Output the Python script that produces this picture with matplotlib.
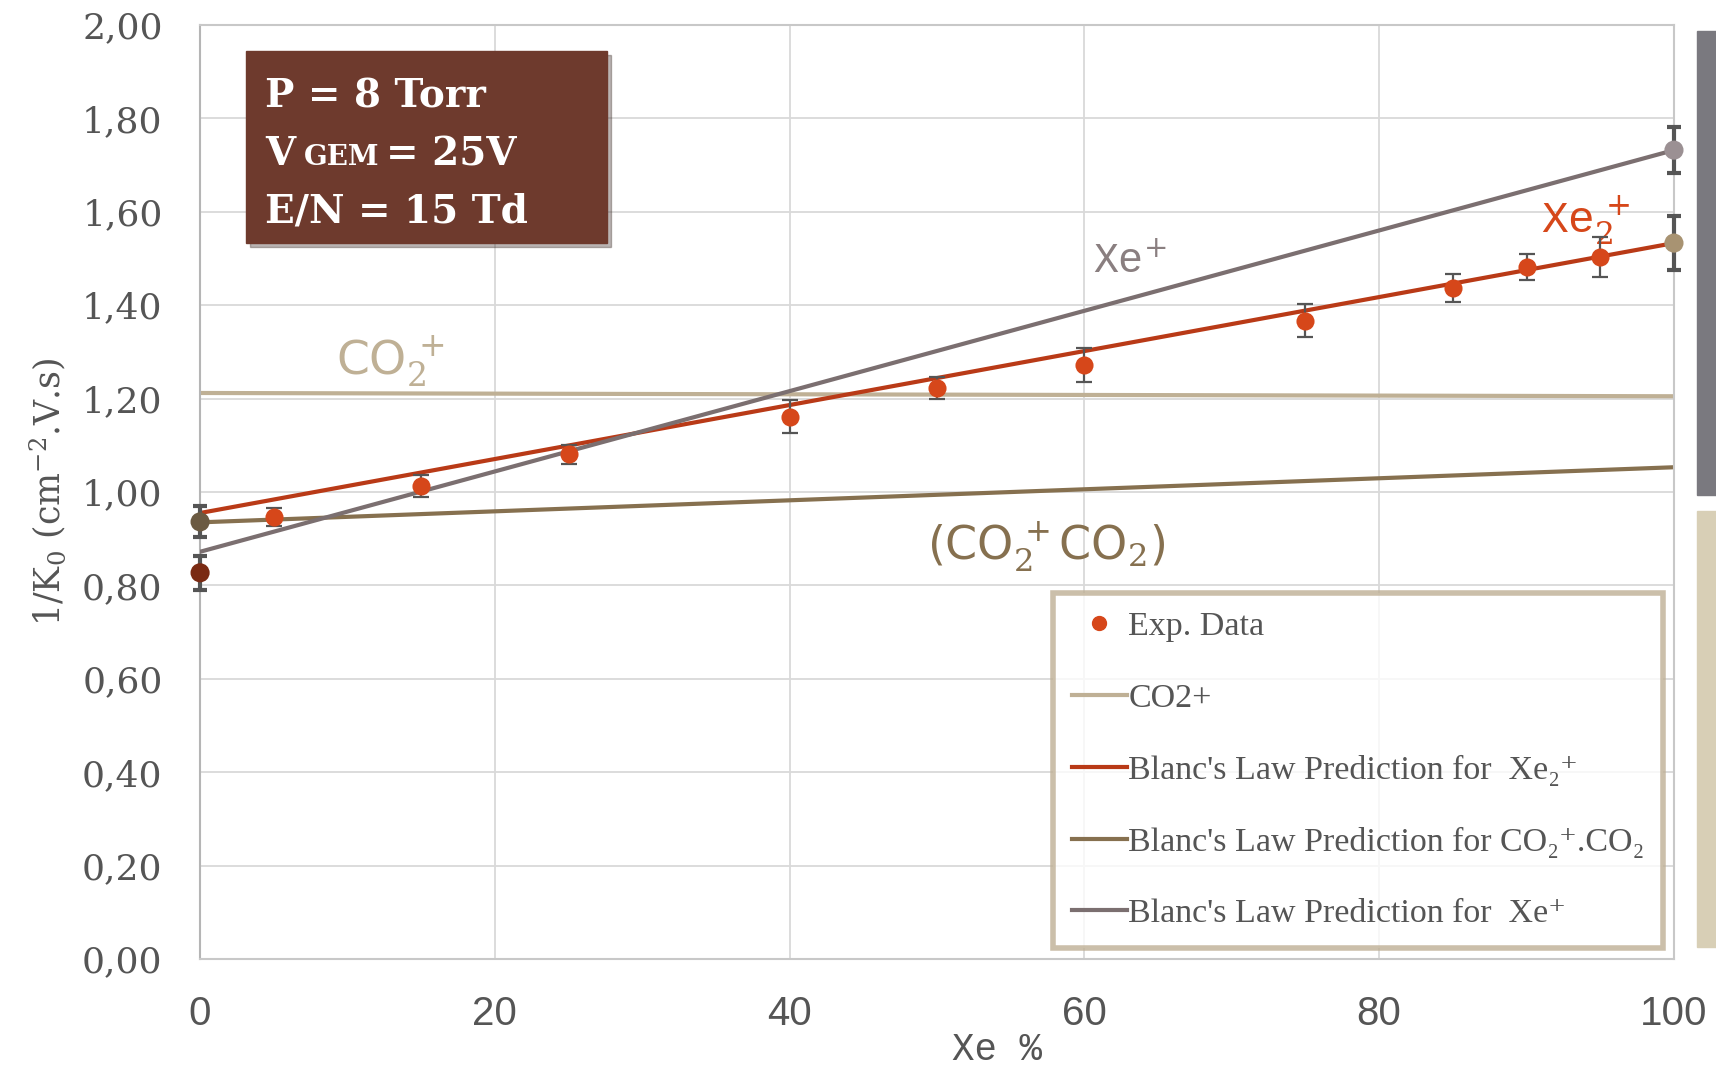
import matplotlib
matplotlib.use("Agg")
from matplotlib import pyplot as plt
from matplotlib.lines import Line2D
from matplotlib.patches import Rectangle
from matplotlib.ticker import FuncFormatter, MultipleLocator

# experimental data, 1/K0 vs Xe %
xe_pct = [5, 15, 25, 40, 50, 60, 75, 85, 90, 95]
inv_k0 = [0.947, 1.013, 1.081, 1.161, 1.223, 1.272, 1.367, 1.437, 1.482, 1.503]
inv_k0_err = [0.019, 0.023, 0.020, 0.035, 0.024, 0.037, 0.035, 0.030, 0.028, 0.043]

# Blanc's law predictions (straight lines between pure gas ends)
line_x = [0, 100]
co2_plus = [1.212, 1.205]
blanc_xe2 = [0.955, 1.533]
blanc_co2co2 = [0.935, 1.053]
blanc_xe = [0.872, 1.732]

# pure gas reference points
ref_x = [0, 0, 100, 100]
ref_y = [0.827, 0.936, 1.533, 1.732]
ref_err = [0.036, 0.033, 0.057, 0.050]
ref_colors = ["#7a2a12", "#6b5a42", "#a89372", "#9b9093"]

EXP_C = "#d6471a"
XE2_C = "#b93a17"
CO2_C = "#bfb095"
CO2CO2_C = "#86704f"
XE_C = "#7b6f70"
ERR_C = "#555555"
TXT_C = "#555555"

plt.rcParams["mathtext.fontset"] = "custom"
plt.rcParams["mathtext.rm"] = "DejaVu Serif"
plt.rcParams["mathtext.it"] = "DejaVu Serif"

fig = plt.figure(figsize=(17.16, 10.67), dpi=100)
ax = fig.add_axes([0.1166, 0.1012, 0.8589, 0.8754])

ax.plot(line_x, co2_plus, color=CO2_C, lw=3, zorder=2)
ax.plot(line_x, blanc_xe2, color=XE2_C, lw=3, zorder=3)
ax.plot(line_x, blanc_co2co2, color=CO2CO2_C, lw=3, zorder=2)
ax.plot(line_x, blanc_xe, color=XE_C, lw=3, zorder=3)

ax.errorbar(xe_pct, inv_k0, yerr=inv_k0_err, fmt="none", ecolor=ERR_C,
            elinewidth=1.6, capsize=6, capthick=1.6, zorder=4)
ax.scatter(xe_pct, inv_k0, s=170, color=EXP_C, zorder=5, linewidths=0)

ax.errorbar(ref_x, ref_y, yerr=ref_err, fmt="none", ecolor=ERR_C,
            elinewidth=3, capsize=5, capthick=3, zorder=4, clip_on=False)
ax.scatter(ref_x, ref_y, s=190, color=ref_colors, zorder=5, linewidths=0,
           clip_on=False)

ax.set_xlim(0, 100)
ax.set_ylim(0, 2.0)
ax.xaxis.set_major_locator(MultipleLocator(20))
ax.yaxis.set_major_locator(MultipleLocator(0.2))
ax.yaxis.set_major_formatter(FuncFormatter(lambda v, p: f"{v:.2f}".replace(".", ",")))
ax.grid(True, color="#d9d9d9", lw=1.3)
ax.set_axisbelow(True)
for s in ax.spines.values():
    s.set_color("#c8c8c8")
    s.set_linewidth(1.5)
ax.spines["left"].set_color("#b5b5b5")
ax.tick_params(length=0)
ax.tick_params(axis="y", pad=27, labelsize=26, labelcolor=TXT_C)
ax.tick_params(axis="x", pad=26, labelsize=29, labelcolor=TXT_C)
for lb in ax.get_yticklabels():
    lb.set_family("DejaVu Serif")
for lb in ax.get_xticklabels():
    lb.set_family("Liberation Sans")

ax.set_ylabel(r"1/K$_0$ (cm$^{-2}$.V.s)", family="DejaVu Serif", fontsize=25,
              color=TXT_C)
ax.yaxis.set_label_coords(-0.0896, 0.5)
fig.text(0.581, 0.033, "Xe %", family="Liberation Mono", fontsize=27,
         color=TXT_C, ha="center", va="top")

# curve labels
ax.text(9.2, 1.25, r"CO$_2^{\,+}$", family="DejaVu Sans", fontsize=34,
        color=CO2_C, ha="left", va="baseline")
ax.text(60.6, 1.47, r"Xe$^{+}$", family="Liberation Mono", fontsize=30,
        color="#8a7f80", ha="left", va="baseline")
ax.text(91.0, 1.555, r"Xe$_2^{\,+}$", family="Liberation Mono", fontsize=32,
        color=EXP_C, ha="left", va="baseline")
ax.text(57.4, 0.855, r"(CO$_2^{\,+}$CO$_2$)", family="DejaVu Sans", fontsize=33,
        color=CO2CO2_C, ha="center", va="baseline")

# legend
handles = [
    Line2D([], [], ls="none", marker="o", ms=10, color=EXP_C),
    Line2D([], [], color=CO2_C, lw=3),
    Line2D([], [], color=XE2_C, lw=3),
    Line2D([], [], color=CO2CO2_C, lw=3),
    Line2D([], [], color=XE_C, lw=3),
]
labels = [
    "Exp. Data",
    "CO2+",
    "Blanc's Law Prediction for  Xe\u2082\u207a",
    "Blanc's Law Prediction for CO\u2082\u207a.CO\u2082",
    "Blanc's Law Prediction for  Xe\u207a",
]
leg = ax.legend(handles, labels, loc="lower left",
                bbox_to_anchor=(0.579, 0.0118), frameon=True, fancybox=False,
                prop={"family": ["Liberation Serif", "DejaVu Serif"], "size": 24.5},
                labelspacing=1.2, handlelength=1.6, handletextpad=0.05,
                borderpad=0.55, borderaxespad=0)
leg.get_frame().set_edgecolor(CO2_C)
leg.get_frame().set_linewidth(4)
for t in leg.get_texts():
    t.set_color(TXT_C)

# parameters box
W, H = 1716, 1067
fig.patches.append(Rectangle((250 / W, 1 - 247 / H), 361 / W, 192 / H,
                             transform=fig.transFigure, color="#3a2a25",
                             alpha=0.35, zorder=8))
fig.patches.append(Rectangle((246 / W, 1 - 243 / H), 361 / W, 192 / H,
                             transform=fig.transFigure, color="#6e3a2d",
                             zorder=9))
box_font = dict(family="DejaVu Serif", weight="bold", color="white", zorder=10)
fig.text(265 / W, 1 - 107 / H, "P = 8 Torr", fontsize=28, va="baseline", **box_font)
fig.text(265 / W, 1 - 165 / H, "V", fontsize=28, va="baseline", **box_font)
fig.text(304 / W, 1 - 165 / H, "GEM", fontsize=20, va="baseline", **box_font)
fig.text(386 / W, 1 - 165 / H, "= 25V", fontsize=28, va="baseline", **box_font)
fig.text(265 / W, 1 - 222 / H, "E/N = 15 Td", fontsize=28, va="baseline", **box_font)

# side panels
fig.patches.append(Rectangle((1697 / W, 1 - 495 / H), 19 / W, 464 / H,
                             transform=fig.transFigure, color="#7a797f"))
fig.patches.append(Rectangle((1697 / W, 1 - 947 / H), 19 / W, 436 / H,
                             transform=fig.transFigure, color="#d8cfb6"))

fig.savefig("out.png", dpi=100)
